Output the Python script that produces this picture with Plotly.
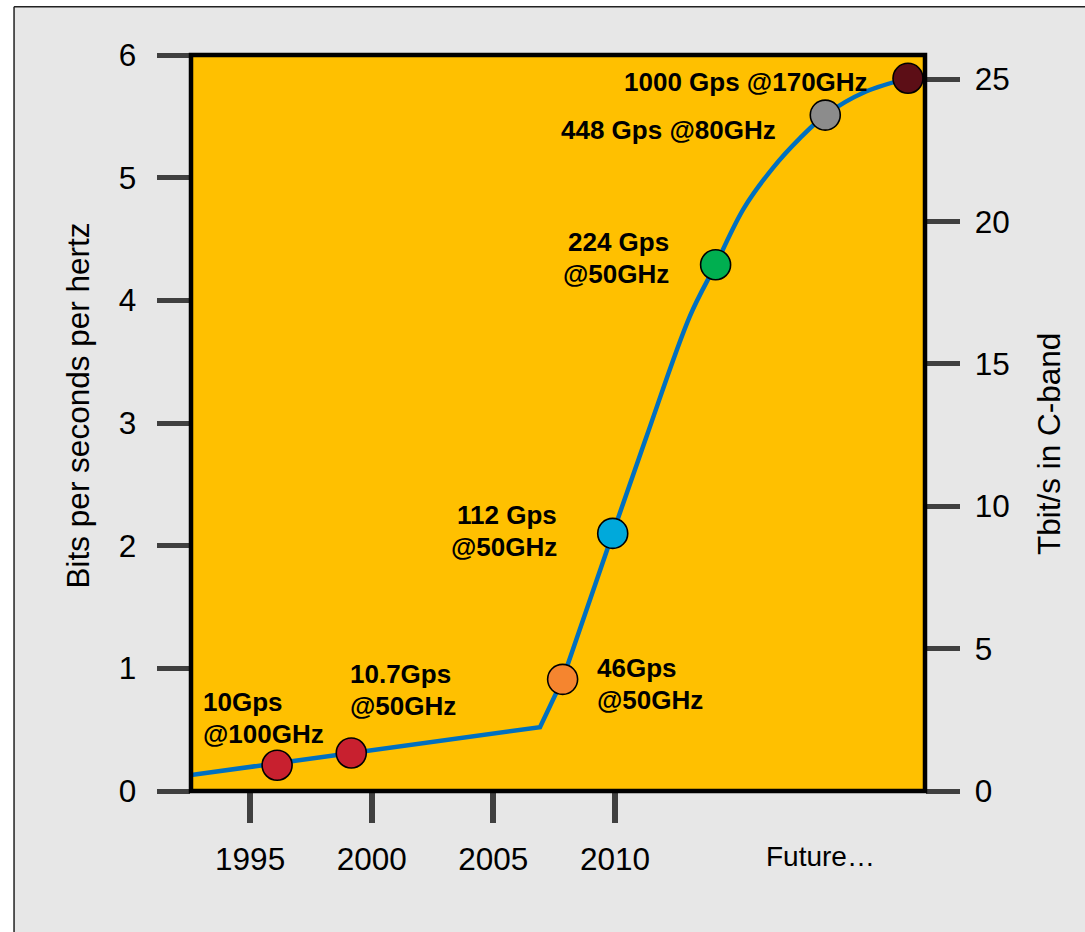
import plotly.graph_objects as go

# ---- data -------------------------------------------------------------
# Transmission milestones: year and spectral efficiency (bit/s/Hz)
milestone_year = [1996.11, 1999.16, 2007.85, 2009.91, 2014.14, 2018.65, 2022.05]
milestone_bps = [0.21, 0.31, 0.91, 2.10, 4.29, 5.51, 5.81]
milestone_label = [
    ["10Gps", "@100GHz"],
    ["10.7Gps", "@50GHz"],
    ["46Gps", "@50GHz"],
    ["112 Gps", "@50GHz"],
    ["224 Gps", "@50GHz"],
    ["448 Gps @80GHz"],
    ["1000 Gps @170GHz"],
]

# Trend line: slow linear growth, then the coherent era
trend_early_year = [1992.57, 2006.92, 2007.85, 2009.91]
trend_early_bps = [0.13, 0.52, 0.91, 2.10]
trend_late_year = [2009.91, 2011.30, 2013.08, 2014.14, 2015.30, 2016.50,
                   2017.60, 2018.65, 2020.30, 2022.05]
trend_late_bps = [2.10, 2.89, 3.87, 4.29, 4.75, 5.08, 5.32, 5.51, 5.70, 5.81]

year_ticks = [1995, 2000, 2005, 2010]
bps_ticks = [0, 1, 2, 3, 4, 5, 6]
tbit_ticks = [0, 5, 10, 15, 20, 25]

# ---- styling ----------------------------------------------------------
FONT = "Arial, Liberation Sans, sans-serif"
marker_colors = ["#C8202F", "#C8202F", "#F5852F", "#00A9DB",
                 "#00AF50", "#8C8C8C", "#5C0E16"]
# label placement relative to each marker: (xanchor, dx px, dy px of first line)
label_style = [
    ("left", -76, -63),
    ("left", -3, -79),
    ("left", 32, -11),
    ("right", -54, -18),
    ("right", -45, -23),
    ("right", -47, 15),
    ("right", -38, 4),
]
LINE_GAP = 32

W, H = 1085, 932
M_L, M_R, M_T, M_B = 190.5, 159.5, 55, 140.5
PW, PH = W - M_L - M_R, H - M_T - M_B


def px_x(px):
    return (px - M_L) / PW


def px_y(py):
    return (H - M_B - py) / PH


fig = go.Figure()

fig.add_trace(go.Scatter(
    x=trend_early_year, y=trend_early_bps, mode="lines",
    line=dict(color="#0070C0", width=4.5), hoverinfo="skip", showlegend=False))
fig.add_trace(go.Scatter(
    x=trend_late_year, y=trend_late_bps, mode="lines",
    line=dict(color="#0070C0", width=4.5, shape="spline", smoothing=1.0),
    hoverinfo="skip", showlegend=False))
fig.add_trace(go.Scatter(
    x=milestone_year, y=milestone_bps, mode="markers",
    marker=dict(size=30, color=marker_colors, line=dict(color="black", width=1.6)),
    cliponaxis=False, showlegend=False))

# invisible trace so the right-hand axis is drawn
fig.add_trace(go.Scatter(x=[2000], y=[0], yaxis="y2", mode="markers",
                         marker=dict(opacity=0), hoverinfo="skip", showlegend=False))

annotations = []
for yr, v, lines, (anchor, dx, dy) in zip(milestone_year, milestone_bps,
                                          milestone_label, label_style):
    for i, txt in enumerate(lines):
        annotations.append(dict(
            x=yr, y=v, xref="x", yref="y", text=txt, showarrow=False,
            xanchor=anchor, yanchor="middle", xshift=dx,
            yshift=-(dy + i * LINE_GAP),
            font=dict(family=FONT, size=26, color="black", weight="bold")))

annotations.append(dict(
    x=2018.46, y=px_y(857), xref="x", yref="paper", text="Future…",
    showarrow=False, xanchor="center", yanchor="middle",
    font=dict(family=FONT, size=28, color="black")))
annotations.append(dict(
    x=px_x(77), y=px_y(406), xref="paper", yref="paper",
    text="Bits per seconds per hertz", textangle=-90, showarrow=False,
    xanchor="center", yanchor="middle",
    font=dict(family=FONT, size=31.5, color="black")))
annotations.append(dict(
    x=px_x(1049), y=px_y(444), xref="paper", yref="paper",
    text="Tbit/s in C-band", textangle=-90, showarrow=False,
    xanchor="center", yanchor="middle",
    font=dict(family=FONT, size=31.5, color="black")))

shapes = [
    # page frame: white strip outside, thin dark rule
    dict(type="rect", xref="paper", yref="paper", x0=px_x(-5), x1=px_x(13.3),
         y0=px_y(H + 5), y1=px_y(-5), fillcolor="white", line=dict(width=0),
         layer="below"),
    dict(type="rect", xref="paper", yref="paper", x0=px_x(-5), x1=px_x(W + 5),
         y0=px_y(6.7), y1=px_y(-5), fillcolor="white", line=dict(width=0),
         layer="below"),
    dict(type="line", xref="paper", yref="paper", x0=px_x(13.3), x1=px_x(13.3),
         y0=px_y(6.7), y1=px_y(H + 5), line=dict(color="#222222", width=1.5)),
    dict(type="line", xref="paper", yref="paper", x0=px_x(13.3), x1=px_x(W + 5),
         y0=px_y(6.7), y1=px_y(6.7), line=dict(color="#222222", width=1.5)),
    # plot border
    dict(type="rect", xref="paper", yref="paper", x0=0, x1=1, y0=0, y1=1,
         line=dict(color="black", width=4.5), layer="above"),
]

tick_font = dict(family=FONT, size=31.5, color="black")

fig.update_layout(
    width=W, height=H,
    margin=dict(l=M_L, r=M_R, t=M_T, b=M_B, pad=0),
    paper_bgcolor="#E7E7E7",
    plot_bgcolor="#FFC000",
    font=dict(family=FONT),
    xaxis=dict(range=[1992.57, 2022.75], tickvals=year_ticks,
               ticks="outside", ticklen=31, tickwidth=6, tickcolor="#404040",
               tickfont=tick_font, showgrid=False, zeroline=False,
               showline=False, ticklabelstandoff=9),
    yaxis=dict(range=[0, 6], tickvals=bps_ticks,
               ticks="outside", ticklen=33.5, tickwidth=5, tickcolor="#404040",
               tickfont=tick_font, showgrid=False, zeroline=False,
               showline=False, ticklabelstandoff=14),
    yaxis2=dict(range=[0, 25.85], tickvals=tbit_ticks, overlaying="y",
                side="right", ticks="outside", ticklen=33.5, tickwidth=5,
                tickcolor="#404040", tickfont=tick_font, showgrid=False,
                zeroline=False, showline=False, ticklabelstandoff=9),
    annotations=annotations,
    shapes=shapes,
    showlegend=False,
)

fig.write_html("out.html")
